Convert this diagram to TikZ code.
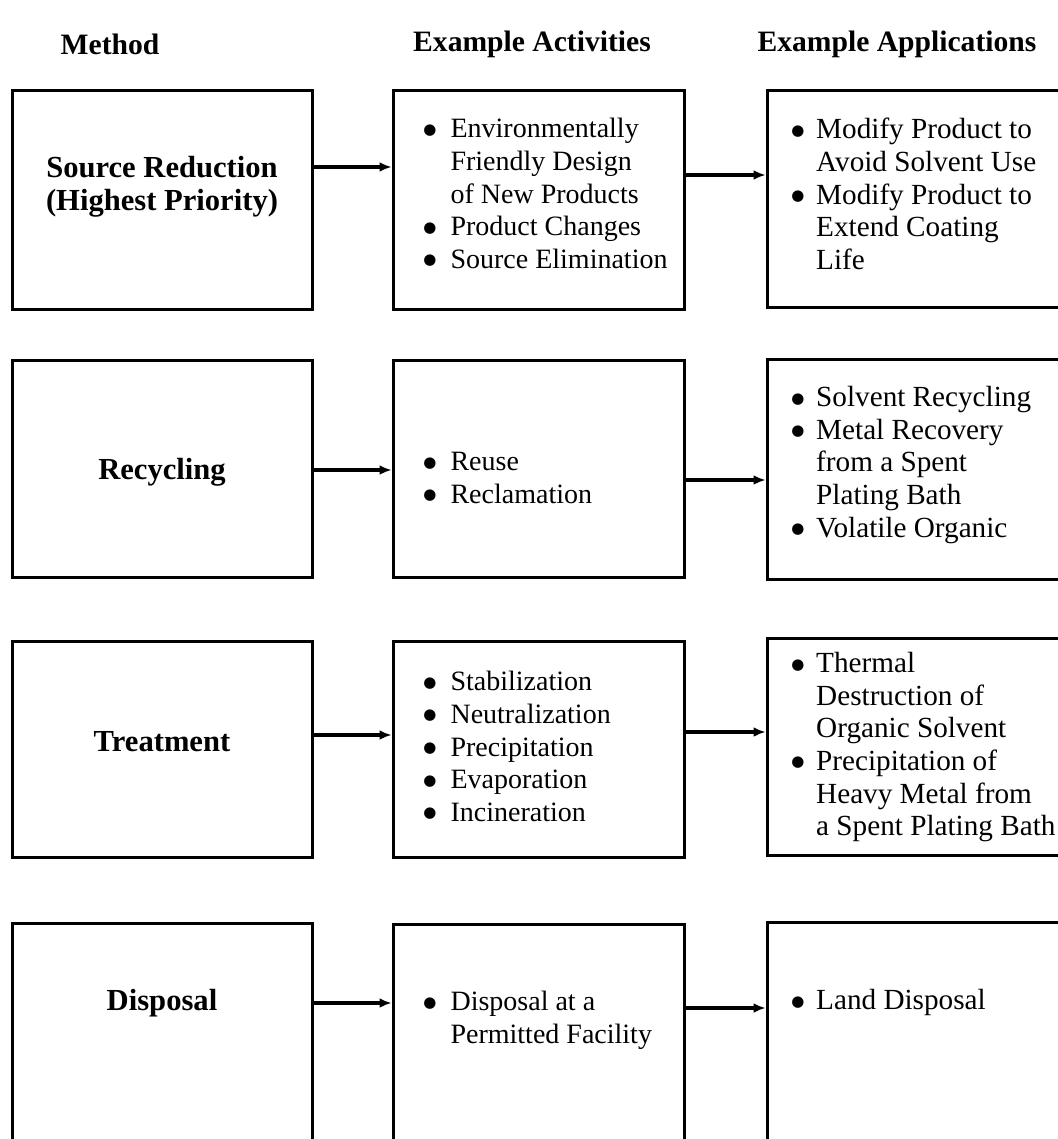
\documentclass[tikz,border=0pt]{standalone}
\usepackage{fontspec}
\setmainfont{Liberation Serif}
\newfontfamily\dotfont{DejaVu Sans}
\usetikzlibrary{arrows.meta, fit}
\newlength{\itemhang}
\newcommand{\bul}{\makebox[\itemhang][l]{\raisebox{1.8pt}{\dotfont\fontsize{7.5}{7.5}\selectfont ●}}}
\newcommand{\ind}{\hspace*{\itemhang}}
\begin{document}
\begin{tikzpicture}[
    x=0.5pt, y=-0.5pt,
    box/.style={draw, line width=1.5pt, inner sep=0pt},
    head/.style={font=\fontsize{14.8}{17}\selectfont\bfseries},
    method/.style={font=\fontsize{15.3}{16.5}\selectfont\bfseries, align=center},
    items/.style={anchor=north west, align=left, inner sep=0pt},
    acts/.style={items, font=\fontsize{14}{16.3}\selectfont\setlength{\itemhang}{0.97em}},
    apps/.style={items, font=\fontsize{14.6}{16.3}\selectfont\setlength{\itemhang}{0.85em}},
    line/.style={-{Latex[length=6pt,width=5pt]}, line width=2pt}
]
\useasboundingbox (0,0) rectangle (1058,1139);

% headings
\node[head] (hm) at (110,44) {Method};
\node[head] (ha) at (532,44) {Example Activities};
\node[head] (hp) at (897,44) {Example Applications};

% boxes
\node[box, fit={(12,91) (312,309)}] (m1) {};
\node[box, fit={(393,91) (684,309)}] (a1) {};
\node[box, fit={(767,91) (1070,307)}] (p1) {};
\node[box, fit={(12,360) (312,577)}] (m2) {};
\node[box, fit={(393,360) (684,577)}] (a2) {};
\node[box, fit={(767,359) (1070,579)}] (p2) {};
\node[box, fit={(12,641) (312,857)}] (m3) {};
\node[box, fit={(393,641) (684,857)}] (a3) {};
\node[box, fit={(767,638) (1070,855)}] (p3) {};
\node[box, fit={(12,923) (312,1160)}] (m4) {};
\node[box, fit={(393,924) (684,1160)}] (a4) {};
\node[box, fit={(767,922) (1070,1160)}] (p4) {};

% methods
\node[method] (m1t) at (162,187) {Source Reduction\\(Highest Priority)};
\node[method] (m2t) at (162,472) {Recycling};
\node[method] (m3t) at (162,742) {Treatment};
\node[method] (m4t) at (162,1003) {Disposal};

% activities
\node[acts] (a1t) at (423,118) {\bul Environmentally\\ \ind Friendly Design\\ \ind of New Products\\ \bul Product Changes\\ \bul Source Elimination};
\node[acts] (a2t) at (423,452) {\bul Reuse\\ \bul Reclamation};
\node[acts] (a3t) at (423,671) {\bul Stabilization\\ \bul Neutralization\\ \bul Precipitation\\ \bul Evaporation\\ \bul Incineration};
\node[acts] (a4t) at (423,991) {\bul Disposal at a\\ \ind Permitted Facility};

% applications
\node[apps] (p1t) at (791,118) {\bul Modify Product to\\ \ind Avoid Solvent Use\\ \bul Modify Product to\\ \ind Extend Coating\\ \ind Life};
\node[apps] (p2t) at (791,386) {\bul Solvent Recycling\\ \bul Metal Recovery\\ \ind from a Spent\\ \ind Plating Bath\\ \bul Volatile Organic};
\node[apps] (p3t) at (791,652) {\bul Thermal\\ \ind Destruction of\\ \ind Organic Solvent\\ \bul Precipitation of\\ \ind Heavy Metal from\\ \ind a Spent Plating Bath};
\node[apps] (p4t) at (791,989) {\bul Land Disposal};

% arrows
\draw[line] (m1.east |- 0,167) -- (a1.west |- 0,167);
\draw[line] (a1.east |- 0,175) -- (p1.west |- 0,175);
\draw[line] (m2.east |- 0,470) -- (a2.west |- 0,470);
\draw[line] (a2.east |- 0,480) -- (p2.west |- 0,480);
\draw[line] (m3.east |- 0,735) -- (a3.west |- 0,735);
\draw[line] (a3.east |- 0,732) -- (p3.west |- 0,732);
\draw[line] (m4.east |- 0,1003) -- (a4.west |- 0,1003);
\draw[line] (a4.east |- 0,1008) -- (p4.west |- 0,1008);
\end{tikzpicture}
\end{document}
